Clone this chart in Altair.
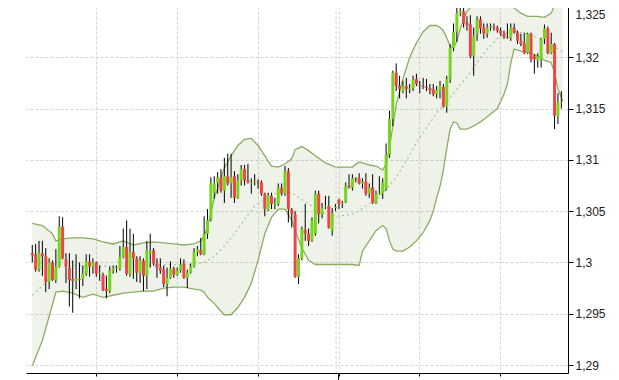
import altair as alt
import pandas as pd
import numpy as np

# ---- hourly candles (index 0..157) ----
opens = [1.3009,1.3008,1.2993,1.3009,1.3006,1.2981,1.3000,1.2983,1.2996,1.3035,
         1.3003,1.2995,1.2984,1.2982,1.2984,1.2984,1.2989,1.3001,1.2996,1.3000,
         1.2989,1.2988,1.2974,1.2972,1.2992,1.2994,1.2994,1.3005,1.3015,1.2989,
         1.3010,1.3004,1.2990,1.3002,1.2987,1.3009,1.3012,1.2999,1.2995,1.2993,
         1.2979,1.2985,1.2994,1.2988,1.2992,1.2999,1.2985,1.2990,1.2996,1.3010,
         1.3012,1.3008,1.3028,1.3042,1.3068,1.3078,1.3083,1.3070,1.3084,1.3077,
         1.3084,1.3063,1.3080,1.3091,1.3080,1.3077,1.3078,1.3079,1.3078,1.3067,
         1.3051,1.3065,1.3057,1.3057,1.3073,1.3067,1.3089,1.3052,1.3047,1.2986,
         1.3004,1.3032,1.3028,1.3021,1.3028,1.3067,1.3047,1.3054,1.3055,1.3031,
         1.3053,1.3061,1.3057,1.3059,1.3075,1.3073,1.3082,1.3082,1.3077,1.3079,
         1.3067,1.3073,1.3058,1.3067,1.3067,1.3072,1.3105,1.3140,1.3185,1.3172,
         1.3167,1.3172,1.3169,1.3170,1.3179,1.3173,1.3172,1.3171,1.3170,1.3169,
         1.3164,1.3167,1.3171,1.3152,1.3179,1.3209,1.3225,1.3243,1.3245,1.3234,
         1.3232,1.3201,1.3223,1.3237,1.3229,1.3223,1.3229,1.3230,1.3229,1.3226,
         1.3223,1.3220,1.3219,1.3229,1.3224,1.3216,1.3214,1.3204,1.3223,1.3201,
         1.3197,1.3198,1.3218,1.3228,1.3204,1.3213,1.3143,1.3156]
highs = [1.3017,1.3018,1.3021,1.3021,1.3014,1.3004,1.3002,1.3013,1.3045,1.3044,
         1.3009,1.3009,1.3002,1.3008,1.3000,1.2997,1.3008,1.3008,1.3004,1.3001,
         1.2997,1.2990,1.2987,1.2996,1.2997,1.2997,1.3016,1.3033,1.3041,1.3033,
         1.3028,1.3006,1.3006,1.3004,1.3021,1.3028,1.3014,1.3004,1.3004,1.2997,
         1.2995,1.3001,1.2996,1.2995,1.3004,1.3003,1.2993,1.2999,1.3014,1.3016,
         1.3024,1.3045,1.3052,1.3083,1.3084,1.3088,1.3091,1.3102,1.3106,1.3106,
         1.3089,1.3086,1.3095,1.3095,1.3096,1.3082,1.3086,1.3081,1.3080,1.3068,
         1.3068,1.3068,1.3063,1.3077,1.3077,1.3094,1.3092,1.3053,1.3050,1.3008,
         1.3035,1.3057,1.3033,1.3044,1.3070,1.3070,1.3058,1.3065,1.3065,1.3053,
         1.3057,1.3062,1.3060,1.3078,1.3086,1.3086,1.3083,1.3087,1.3082,1.3087,
         1.3077,1.3086,1.3070,1.3084,1.3082,1.3116,1.3148,1.3187,1.3194,1.3182,
         1.3177,1.3180,1.3174,1.3182,1.3184,1.3177,1.3180,1.3179,1.3174,1.3174,
         1.3172,1.3177,1.3174,1.3182,1.3213,1.3233,1.3255,1.3257,1.3252,1.3240,
         1.3241,1.3229,1.3240,1.3240,1.3233,1.3233,1.3233,1.3233,1.3231,1.3229,
         1.3226,1.3233,1.3233,1.3233,1.3226,1.3223,1.3224,1.3224,1.3224,1.3203,
         1.3204,1.3219,1.3232,1.3230,1.3224,1.3214,1.3165,1.3167]
lows = [1.3000,1.2991,1.2991,1.2987,1.2971,1.2974,1.2982,1.2980,1.2995,1.3003,
        1.2980,1.2957,1.2951,1.2974,1.2965,1.2977,1.2987,1.2986,1.2989,1.2986,
        1.2982,1.2972,1.2965,1.2970,1.2989,1.2990,1.2992,1.3004,1.2987,1.2986,
        1.2984,1.2981,1.2980,1.2972,1.2974,1.2995,1.2997,1.2985,1.2989,1.2976,
        1.2967,1.2984,1.2985,1.2987,1.2990,1.2984,1.2975,1.2989,1.2995,1.3006,
        1.3007,1.3007,1.3023,1.3040,1.3062,1.3067,1.3068,1.3058,1.3075,1.3063,
        1.3058,1.3062,1.3075,1.3075,1.3077,1.3067,1.3075,1.3072,1.3065,1.3045,
        1.3050,1.3052,1.3052,1.3055,1.3065,1.3065,1.3039,1.3034,1.2985,1.2979,
        1.3002,1.3021,1.3016,1.3020,1.3026,1.3038,1.3043,1.3052,1.3033,1.3026,
        1.3050,1.3052,1.3053,1.3058,1.3072,1.3070,1.3078,1.3076,1.3072,1.3065,
        1.3063,1.3057,1.3057,1.3066,1.3062,1.3070,1.3102,1.3133,1.3167,1.3160,
        1.3165,1.3160,1.3165,1.3167,1.3172,1.3165,1.3169,1.3167,1.3164,1.3162,
        1.3160,1.3160,1.3151,1.3146,1.3175,1.3206,1.3215,1.3240,1.3229,1.3226,
        1.3199,1.3182,1.3216,1.3223,1.3218,1.3219,1.3226,1.3226,1.3224,1.3221,
        1.3218,1.3218,1.3216,1.3223,1.3213,1.3211,1.3203,1.3203,1.3195,1.3184,
        1.3190,1.3190,1.3213,1.3203,1.3203,1.3130,1.3135,1.3150]
closes = [1.3007,1.2993,1.3009,1.3006,1.2981,1.3000,1.2983,1.2996,1.3035,1.3004,
          1.2996,1.2983,1.2982,1.2984,1.2983,1.2989,1.3001,1.2996,1.3000,1.2989,
          1.2990,1.2973,1.2972,1.2992,1.2994,1.2995,1.3005,1.3015,1.2989,1.3010,
          1.3004,1.2990,1.3002,1.2987,1.3012,1.3011,1.2999,1.2995,1.2992,1.2979,
          1.2985,1.2994,1.2988,1.2992,1.2998,1.2985,1.2990,1.2996,1.3010,1.3013,
          1.3008,1.3028,1.3041,1.3077,1.3077,1.3083,1.3070,1.3084,1.3077,1.3083,
          1.3063,1.3080,1.3091,1.3080,1.3078,1.3078,1.3079,1.3078,1.3067,1.3052,
          1.3065,1.3057,1.3058,1.3073,1.3067,1.3089,1.3052,1.3047,1.2986,1.3004,
          1.3033,1.3028,1.3021,1.3041,1.3067,1.3047,1.3053,1.3055,1.3034,1.3048,
          1.3054,1.3057,1.3058,1.3075,1.3073,1.3082,1.3081,1.3077,1.3079,1.3067,
          1.3073,1.3058,1.3067,1.3068,1.3078,1.3105,1.3140,1.3185,1.3172,1.3169,
          1.3172,1.3169,1.3170,1.3178,1.3174,1.3172,1.3171,1.3170,1.3168,1.3164,
          1.3168,1.3172,1.3152,1.3179,1.3209,1.3225,1.3243,1.3245,1.3233,1.3231,
          1.3201,1.3221,1.3237,1.3228,1.3223,1.3229,1.3230,1.3229,1.3226,1.3223,
          1.3220,1.3219,1.3229,1.3224,1.3216,1.3213,1.3204,1.3223,1.3198,1.3198,
          1.3201,1.3218,1.3228,1.3204,1.3213,1.3143,1.3156,1.3157]

# ---- Bollinger bands ----
band_idx = [0,3,6,7,9,12,15,18,21,24,27,30,33,36,39,42,45,48,50,51,52,53,54,55,57,59,
            61,63,65,67,69,71,73,75,77,78,80,82,84,87,90,93,95,97,98,100,102,104,105,
            106,107,108,110,112,114,116,118,119,120,121,122,123,124,125,126,127,128,
            129,131,133,135,138,140,141,142,143,145,147,150,152,154,155,156,157.5]
upper = [1.3038,1.3036,1.3028,1.3021,1.3023,1.3024,1.3024,1.3023,1.3020,1.3018,1.3021,
         1.3017,1.3019,1.3020,1.3019,1.3018,1.3017,1.3018,1.3021,1.3026,1.3035,1.3048,
         1.3063,1.3072,1.3092,1.3104,1.3114,1.3120,1.3121,1.3114,1.3104,1.3094,1.3093,
         1.3096,1.3101,1.3110,1.3113,1.3109,1.3104,1.3097,1.3093,1.3093,1.3093,1.3098,
         1.3097,1.3095,1.3094,1.3090,1.3096,1.3112,1.3133,1.3154,1.3179,1.3200,1.3214,
         1.3225,1.3231,1.3231,1.3231,1.3229,1.3226,1.3219,1.3211,1.3209,1.3216,1.3228,
         1.3237,1.3245,1.3252,1.3259,1.3265,1.3265,1.3260,1.3256,1.3252,1.3248,1.3243,
         1.3240,1.3240,1.3239,1.3243,1.3251,1.3255,1.3256]
lower = [1.2899,1.2924,1.2959,1.2971,1.2972,1.2970,1.2966,1.2969,1.2966,1.2968,1.2970,
         1.2971,1.2972,1.2972,1.2975,1.2976,1.2976,1.2974,1.2973,1.2971,1.2966,1.2963,
         1.2960,1.2956,1.2949,1.2949,1.2956,1.2966,1.2980,1.3002,1.3028,1.3044,1.3052,
         1.3052,1.3041,1.3031,1.3014,1.3002,1.2998,1.2998,1.2998,1.2998,1.2998,1.2997,
         1.3011,1.3021,1.3031,1.3036,1.3033,1.3021,1.3013,1.3011,1.3011,1.3015,1.3021,
         1.3029,1.3041,1.3050,1.3063,1.3074,1.3090,1.3111,1.3130,1.3137,1.3136,1.3130,
         1.3130,1.3130,1.3133,1.3137,1.3142,1.3150,1.3164,1.3174,1.3194,1.3208,1.3206,
         1.3205,1.3201,1.3197,1.3195,1.3185,1.3169,1.3157]
mid_idx = [0,3,6,8,12,18,24,30,36,42,48,51,54,57,60,63,66,69,72,75,78,81,84,87,90,93,
           96,99,102,105,108,111,114,117,120,123,126,129,132,135,138,141,144,147,150,
           153,156,157.5]
middle = [1.2968,1.2977,1.2989,1.2997,1.2997,1.2997,1.2996,1.2997,1.2997,1.2998,1.2998,
          1.3000,1.3006,1.3016,1.3028,1.3042,1.3055,1.3061,1.3067,1.3070,1.3066,1.3059,
          1.3053,1.3047,1.3045,1.3046,1.3048,1.3055,1.3061,1.3071,1.3083,1.3099,1.3117,
          1.3131,1.3146,1.3157,1.3169,1.3181,1.3195,1.3208,1.3218,1.3224,1.3225,1.3223,
          1.3219,1.3214,1.3208,1.3205]

day_ticks = [18.9, 42.9, 66.9, 90.9, 114.9, 138.9]
week_mark = [90.15]
y_ticks = [1.29, 1.295, 1.3, 1.305, 1.31, 1.315, 1.32, 1.325]

candles = pd.DataFrame({"i": list(range(len(opens))), "open": opens, "high": highs,
                        "low": lows, "close": closes})
candles["dir"] = np.where(candles["close"] >= candles["open"], "up", "down")
bands = pd.DataFrame({"i": band_idx, "upper": upper, "lower": lower})
mids = pd.DataFrame({"i": mid_idx, "middle": middle})

X_DOM = [-0.38, 157.5]
Y_DOM = [1.28922, 1.32549]
GRID = "#d4d4d4"
TOP_TEST = "datum.value > 1.3245"

x_axis = alt.Axis(values=day_ticks, labels=False, title=None, tickSize=3,
                  tickColor="#000", domainColor="#000", grid=True,
                  gridColor=GRID, gridDash=[3, 2], gridWidth=1)
y_axis = alt.Axis(values=y_ticks, orient="right", title=None, tickSize=5,
                  tickColor="#000", domainColor="#000", grid=True,
                  gridColor=GRID, gridDash=[3, 2], gridWidth=1, labelPadding=2,
                  labelBaseline={"condition": {"test": TOP_TEST, "value": "top"},
                                 "value": "middle"},
                  labelOffset={"condition": {"test": TOP_TEST, "value": 3},
                               "value": 0},
                  labelExpr="replace(format(datum.value, '.3~f'), '.', ',')")
xs = alt.Scale(domain=X_DOM, nice=False, zero=False)
ys = alt.Scale(domain=Y_DOM, nice=False, zero=False)

def X(f="i"):
    return alt.X(f"{f}:Q", scale=xs, axis=x_axis)

def Y(f):
    return alt.Y(f"{f}:Q", scale=ys, axis=y_axis)

band_fill = alt.Chart(bands).mark_area(color="#7d9a55", opacity=0.13, clip=True).encode(
    x=X(), y=Y("upper"), y2="lower:Q")
up_line = alt.Chart(bands).mark_line(color="#8aac62", strokeWidth=1.3, clip=True).encode(
    x=X(), y=Y("upper"))
low_line = alt.Chart(bands).mark_line(color="#8aac62", strokeWidth=1.3, clip=True).encode(
    x=X(), y=Y("lower"))
mid_line = alt.Chart(mids).mark_line(color="#a9c58c", strokeWidth=1.2, strokeDash=[2, 3],
                                     clip=True).encode(x=X(), y=Y("middle"))
week_rule = alt.Chart(pd.DataFrame({"i": week_mark})).mark_rule(
    color=GRID, strokeDash=[3, 2], strokeWidth=1).encode(x=X())
major_tick = alt.Chart(pd.DataFrame({"i": [day_ticks[3]]})).mark_rule(
    color="#000", strokeWidth=1).encode(x=X(), y=alt.value(372), y2=alt.value(380))
wicks = alt.Chart(candles).mark_rule(color="#000", strokeWidth=1, clip=True).encode(
    x=X(), y=Y("low"), y2="high:Q")
bodies = alt.Chart(candles).mark_bar(size=3, clip=True).encode(
    x=X(), y=Y("open"), y2="close:Q",
    color=alt.Color("dir:N", scale=alt.Scale(domain=["up", "down"],
                                             range=["#77d41c", "#ec4646"]), legend=None))

chart = alt.layer(band_fill, up_line, low_line, mid_line, week_rule, wicks, bodies,
                  major_tick).properties(
    width=542, height=372,
    padding={"left": 18, "top": -8, "right": 0, "bottom": 0},
).configure_view(strokeWidth=0).configure_axis(
    labelFont="Liberation Sans", labelFontSize=12, labelColor="#222")

chart.save("out.html", embed_options={"renderer": "svg", "actions": False})
